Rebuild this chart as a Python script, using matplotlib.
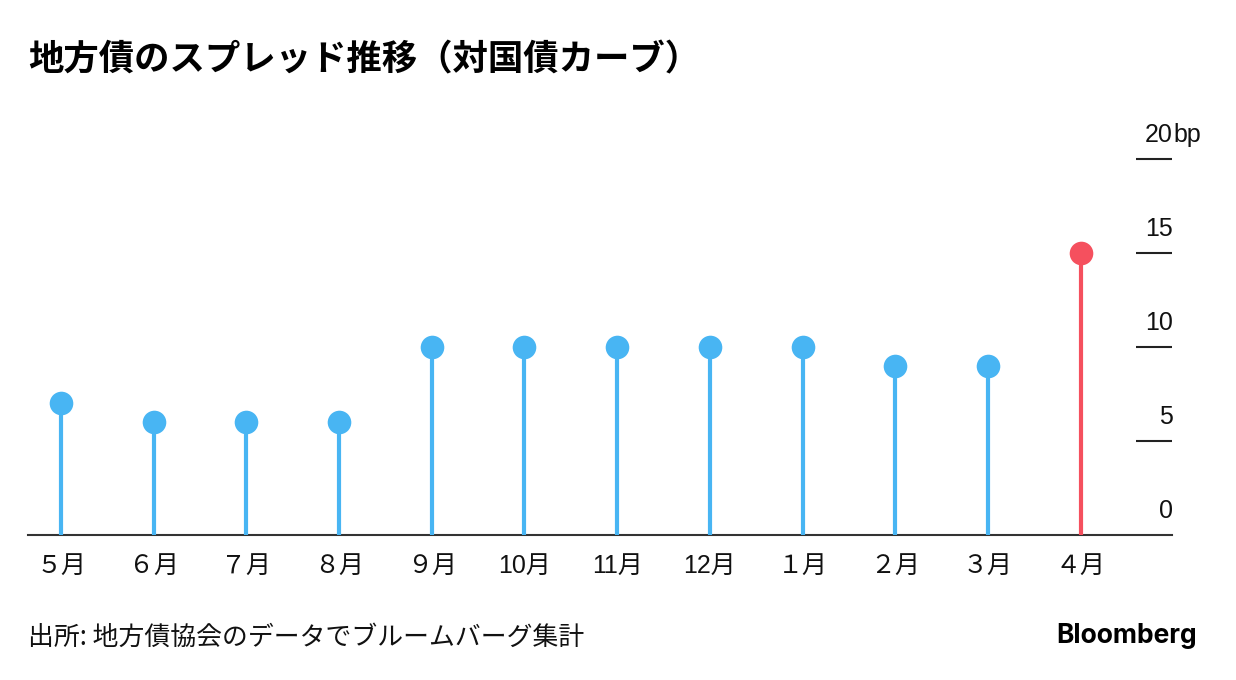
import matplotlib
matplotlib.use('Agg')
import matplotlib.pyplot as plt
import matplotlib.transforms as mtransforms

plt.rcParams['font.family'] = ['Liberation Sans', 'Noto Sans CJK JP', 'DejaVu Sans']

months = ['５月', '６月', '７月', '８月', '９月', '10月', '11月', '12月', '１月', '２月', '３月', '４月']
spread = [7, 6, 6, 6, 10, 10, 10, 10, 10, 9, 9, 15]
yticks = [0, 5, 10, 15, 20]

blue = '#48B5F3'
red = '#F5505E'
colors = [blue] * (len(months) - 1) + [red]

W, H = 1236, 680
fig = plt.figure(figsize=(W / 100, H / 100), dpi=100)
ax = fig.add_axes([28 / W, (H - 534.5) / H, (1172 - 28) / W, (534.5 - 159) / H])

x = list(range(len(months)))
for xi, v, c in zip(x, spread, colors):
    ax.plot([xi, xi], [0, v], color=c, lw=3, solid_capstyle='butt', clip_on=False, zorder=2)
    ax.plot(xi, v, 'o', color=c, ms=17, mec='none', clip_on=False, zorder=3)

ax.set_xlim(-0.356, 11.985)
ax.set_ylim(0, 20)

for s in ['top', 'left', 'right']:
    ax.spines[s].set_visible(False)
ax.spines['bottom'].set_color('#333333')
ax.spines['bottom'].set_linewidth(1.5)
ax.spines['bottom'].set_zorder(1)

ax.set_xticks(x)
ax.set_xticklabels(months, fontsize=18, family=['Liberation Sans', 'Noto Sans CJK JP'])
ax.tick_params(axis='x', length=0, pad=14, colors='#111111')

# right side ticks drawn inward, labels above them
ax.yaxis.tick_right()
ax.set_yticks(yticks[1:])
ax.set_yticklabels([])
ax.tick_params(axis='y', direction='in', length=26, width=1.5, colors='#222222')

off = mtransforms.offset_copy(ax.get_yaxis_transform(), fig=fig, x=1, y=12, units='dots')
for v in yticks:
    ax.text(1.0, v, str(v), transform=off, ha='right', va='bottom', fontsize=18, color='#111111')
off2 = mtransforms.offset_copy(ax.get_yaxis_transform(), fig=fig, x=1, y=12, units='dots')
ax.text(1.0, 20, 'bp', transform=off2, ha='left', va='bottom', fontsize=18, color='#111111')

fig.text(28 / W, 1 - 60 / H, '地方債のスプレッド推移（対国債カーブ）', fontsize=25.5, fontweight='bold',
         family=['Noto Sans CJK JP'], va='center', ha='left', color='#000000')
fig.text(28 / W, 1 - 637 / H, '出所: 地方債協会のデータでブルームバーグ集計', fontsize=18.6,
         family=['Noto Sans CJK JP'], va='center', ha='left', color='#111111')
fig.text(1197 / W, 1 - 636 / H, 'Bloomberg', fontsize=19, fontweight='bold', family=['Inter', 'DejaVu Sans'],
         va='center', ha='right', color='#000000')

fig.savefig('out.png', dpi=100)
